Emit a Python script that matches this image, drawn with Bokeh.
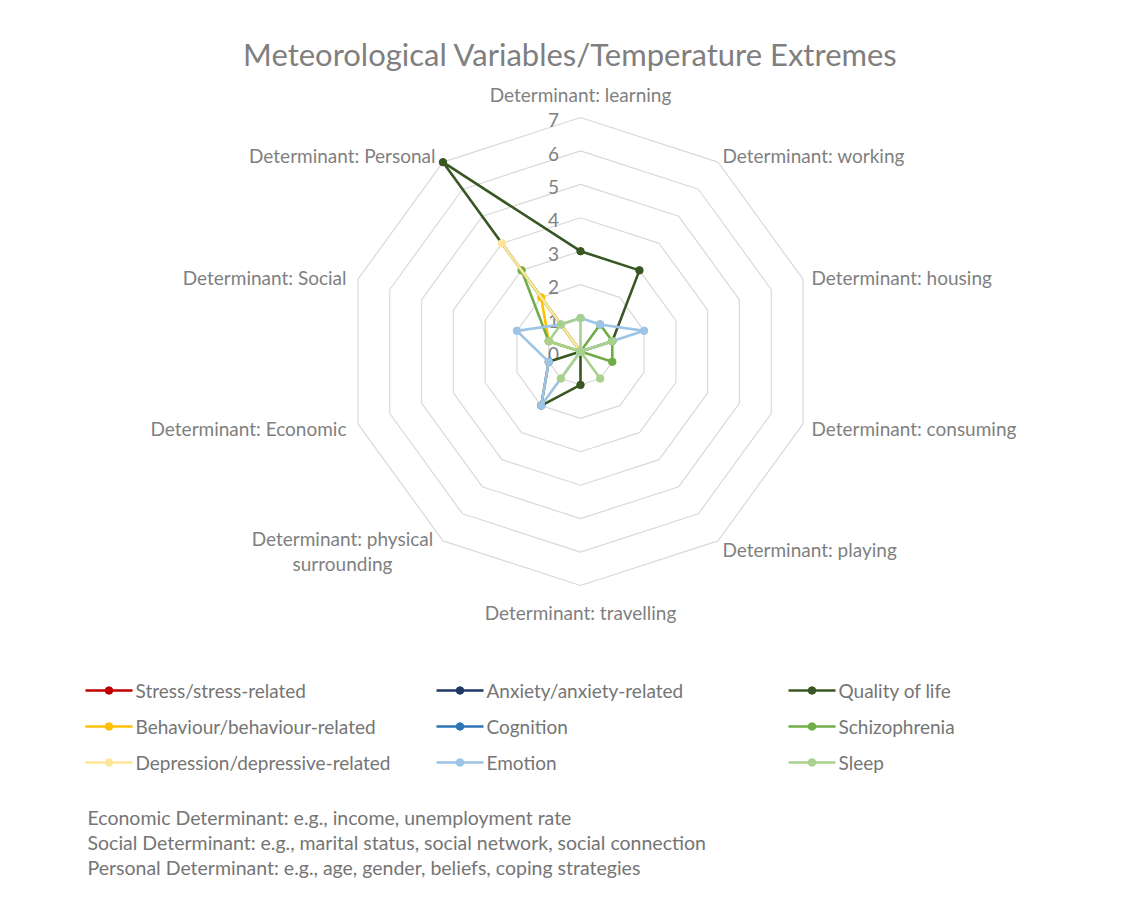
import numpy as np
from bokeh.plotting import figure
from bokeh.models import Range1d
from bokeh.core.properties import value
from bokeh.embed import file_html
from bokeh.resources import INLINE

# ---------------- data ----------------
categories = ["Determinant: learning", "Determinant: working", "Determinant: housing",
              "Determinant: consuming", "Determinant: playing", "Determinant: travelling",
              "Determinant: physical surrounding", "Determinant: Economic",
              "Determinant: Social", "Determinant: Personal"]
tick_labels = ["0", "1", "2", "3", "4", "5", "6", "7"]

stress      = [0, 0, 0, 0, 0, 0, 0, 0, 0, 0]
anxiety     = [0, 0, 0, 0, 0, 0, 0, 0, 0, 0]
quality     = [3, 3, 1, 0, 0, 1, 2, 1, 0, 7]
behaviour   = [0, 0, 0, 0, 0, 0, 0, 0, 1, 2]
cognition   = [0, 0, 0, 0, 0, 0, 0, 0, 0, 0]
schizo      = [0, 1, 1, 1, 0, 0, 0, 0, 1, 3]
depression  = [0, 0, 0, 0, 0, 0, 0, 0, 0, 4]
emotion     = [1, 1, 2, 0, 0, 0, 2, 1, 2, 1]
sleep       = [1, 0, 1, 0, 1, 0, 1, 0, 1, 1]

series_names = ["Stress/stress-related", "Anxiety/anxiety-related", "Quality of life",
                "Behaviour/behaviour-related", "Cognition", "Schizophrenia",
                "Depression/depressive-related", "Emotion", "Sleep"]
series_values = [stress, anxiety, quality, behaviour, cognition, schizo,
                 depression, emotion, sleep]
series_colors = ["#C00000", "#1F3864", "#385723", "#FFC000", "#2E75B6", "#70AD47",
                 "#FFE699", "#9DC3E6", "#A9D18E"]

footnotes = ["Economic Determinant: e.g., income, unemployment rate",
             "Social Determinant: e.g., marital status, social network, social connection",
             "Personal Determinant: e.g., age, gender, beliefs, coping strategies"]

# ---------------- layout helpers ----------------
W, H = 1116, 900
CX, CY = 580, 351          # page px of the radar centre
U = 234 / 7                # px per value unit
rmax = 7
OFF = 0                    # page offset of the figure's top-left corner

def dx(px):
    return (px - CX) / U

def dy(py):
    return (CY - py) / U

p = figure(width=W, height=H, output_backend="svg", toolbar_location=None,
           x_range=Range1d(dx(OFF), dx(OFF + W)), y_range=Range1d(dy(OFF + H), dy(OFF)),
           min_border=0, background_fill_color="white", border_fill_color="white")
p.axis.visible = False
p.grid.visible = False
p.outline_line_color = None

n = len(categories)
ang = np.deg2rad(90 - 36 * np.arange(n))

# grid rings
for k in range(1, rmax + 1):
    xs = list(k * np.cos(ang)) + [k * np.cos(ang[0])]
    ys = list(k * np.sin(ang)) + [k * np.sin(ang[0])]
    p.line(xs, ys, line_color="#D9D9D9", line_width=1.2)

FONT = value("Lato")
GREY = "#7F7F7F"
LBL = "19px"

def txt(x, y, s, size, color=GREY, align="left", baseline="middle"):
    p.text(x=[x], y=[y], text=[s], text_font=FONT, text_font_size=value(size),
           text_color=color, text_align=align, text_baseline=baseline)

# tick labels
for k, t in enumerate(tick_labels):
    txt(dx(553), k - 0.08, t, "19px", align="center")

# category labels (page px anchors)
lab_pos = [(580, 94, "center"), (722, 155, "left"), (811, 277, "left"),
           (811, 428, "left"), (722, 549, "left"), (580, 612, "center"),
           (None, None, None), (346, 428, "right"), (346, 277, "right"),
           (435, 155, "right")]
for i, (lx, ly, al) in enumerate(lab_pos):
    if lx is None:
        words = categories[i].split(" ")
        txt(dx(342), dy(538), " ".join(words[:2]), LBL, align="center")
        txt(dx(342), dy(563), words[2], LBL, align="center")
    else:
        txt(dx(lx), dy(ly), categories[i], LBL, align=al)

# series
for name, vals, col in zip(series_names, series_values, series_colors):
    v = np.array(vals, dtype=float)
    xs = list(v * np.cos(ang)) + [v[0] * np.cos(ang[0])]
    ys = list(v * np.sin(ang)) + [v[0] * np.sin(ang[0])]
    p.line(xs, ys, line_color=col, line_width=2.6, line_join="round")
    p.scatter(v * np.cos(ang), v * np.sin(ang), size=7.5, marker="circle",
              fill_color=col, line_color=col, line_width=1)

# title
txt(dx(570), dy(53), "Meteorological Variables/Temperature Extremes", "31px",
    color="#7F7F7F", align="center")

# legend (row-major, 3 columns)
col_x = [85, 436, 788]
row_y = [690, 726, 762]
for idx, (name, col) in enumerate(zip(series_names, series_colors)):
    r, c = divmod(idx, 3)
    x0 = col_x[c]
    y0 = row_y[r]
    p.line([dx(x0), dx(x0 + 47)], [dy(y0), dy(y0)], line_color=col, line_width=2.6)
    p.scatter([dx(x0 + 23.5)], [dy(y0)], size=7.5, marker="circle",
              fill_color=col, line_color=col)
    txt(dx(x0 + 50), dy(y0), name, "19px", color="#757575")

# footnotes
for j, s in enumerate(footnotes):
    txt(dx(87), dy(817 + 25 * j), s, "19.5px", color="#757575")

open("out.html", "w").write(file_html(p, INLINE))
